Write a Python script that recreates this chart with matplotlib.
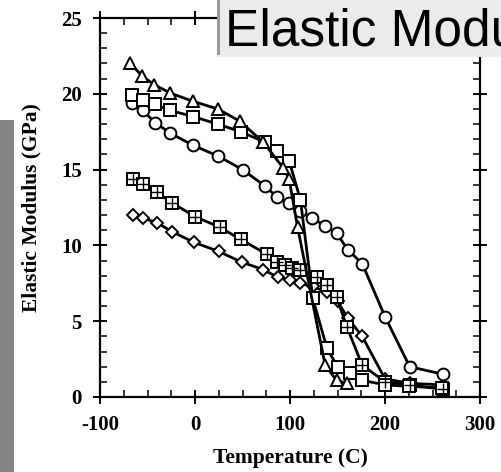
import matplotlib
matplotlib.use("Agg")
import matplotlib.pyplot as plt
from matplotlib.patches import Rectangle
from matplotlib.ticker import MultipleLocator

# ---- data ----
tri_T = [-68, -56, -43, -26, -2, 24, 47, 72, 93, 99, 108, 137, 149, 160]
tri_E = [22.0, 21.2, 20.6, 20.05, 19.5, 19.0, 18.2, 16.8, 15.1, 14.4, 11.2, 2.1, 1.1, 0.9]

sq_T = [-66, -55, -42, -26, -2, 24, 48, 74, 86, 99, 111, 124, 139, 150, 163, 176, 200, 225, 260]
sq_E = [19.9, 19.6, 19.3, 18.9, 18.5, 18.0, 17.5, 16.8, 16.2, 15.6, 13.0, 6.5, 3.2, 2.0, 1.6, 1.1, 0.8, 0.7, 0.6]

circ_T = [-66, -55, -42, -26, -2, 24, 50, 74, 86, 99, 111, 123, 137, 149, 161, 176, 200, 226, 261]
circ_E = [19.4, 18.9, 18.1, 17.4, 16.6, 15.9, 15.0, 13.9, 13.2, 12.8, 12.3, 11.8, 11.3, 10.8, 9.7, 8.8, 5.3, 2.0, 1.5]

xsq_T = [-65, -55, -40, -24, 0, 26, 48, 76, 86, 95, 102, 110, 128, 139, 149, 160, 176, 200, 226, 261]
xsq_E = [14.4, 14.05, 13.5, 12.8, 11.9, 11.2, 10.4, 9.4, 8.9, 8.7, 8.5, 8.4, 7.9, 7.4, 6.6, 4.6, 2.1, 1.0, 0.8, 0.5]

dia_T = [-65, -55, -40, -24, -1, 25, 49, 72, 87, 100, 110, 124, 139, 150, 161, 176, 200, 226, 261]
dia_E = [12.0, 11.8, 11.5, 10.9, 10.2, 9.6, 8.9, 8.4, 7.9, 7.7, 7.5, 7.3, 6.9, 6.3, 5.2, 4.0, 1.2, 0.9, 0.8]

x_ticks = [-100, 0, 100, 200, 300]
y_ticks = [0, 5, 10, 15, 20, 25]
x_label = "Temperature (C)"
y_label = "Elastic Modulus (GPa)"
title_text = "Elastic Modulus"

# ---- figure ----
W, H = 501, 472
fig = plt.figure(figsize=(W / 100, H / 100), dpi=100)
ax = fig.add_axes([100 / W, 1 - 397 / H, 380 / W, 379 / H])

serif = ["Liberation Serif", "DejaVu Serif"]
lw = 2.0
mew = 1.4

def draw(T, E, marker, ms):
    ax.plot(T, E, color="black", lw=lw, marker=marker, ms=ms,
            mfc="white", mec="black", mew=mew, zorder=3)

draw(dia_T, dia_E, "D", 6.5)
draw(xsq_T, xsq_E, "s", 8.5)
ax.plot(xsq_T, xsq_E, ls="none", marker="+", ms=8.5, mec="black", mew=1.0, zorder=4)
draw(circ_T, circ_E, "o", 8.5)
draw(sq_T, sq_E, "s", 9.0)
draw(tri_T, tri_E, "^", 9.0)

ax.set_xlim(-100, 300)
ax.set_ylim(0, 25)
ax.set_xticks(x_ticks)
ax.set_yticks(y_ticks)
ax.set_xticklabels([str(v) for v in x_ticks])
ax.xaxis.set_minor_locator(MultipleLocator(25))
ax.yaxis.set_minor_locator(MultipleLocator(1))

for s in ax.spines.values():
    s.set_linewidth(1.6)

ax.tick_params(which="major", direction="inout", length=10, width=1.4,
               top=True, right=True, pad=8)
ax.tick_params(which="minor", direction="in", length=5, width=1.1,
               top=True, right=True)
for lab in ax.get_xticklabels() + ax.get_yticklabels():
    lab.set_fontfamily(serif)
    lab.set_fontweight("bold")
    lab.set_fontsize(15)

ax.set_xlabel(x_label, fontfamily=serif, fontweight="bold", fontsize=15.5, labelpad=9)
ax.set_ylabel(y_label, fontfamily=serif, fontweight="bold", fontsize=15.5, labelpad=14)

# ---- overlays ----
fig.patches.append(Rectangle((0, 0), 14 / W, (H - 120) / H, transform=fig.transFigure,
                             facecolor="#858585", edgecolor="none", zorder=10))
fig.patches.append(Rectangle((217 / W, 1 - 57 / H), (W - 217) / W + 0.05, 57 / H,
                             transform=fig.transFigure, facecolor="#ebebeb",
                             edgecolor="none", zorder=10))
fig.patches.append(Rectangle((217 / W, 1 - 55 / H), 3 / W, 55 / H,
                             transform=fig.transFigure, facecolor="#9a9a9a",
                             edgecolor="none", zorder=11))
fig.text(225 / W, 1 - 46 / H, title_text, fontsize=37,
         fontfamily=["Liberation Sans", "DejaVu Sans"], color="black",
         ha="left", va="baseline", zorder=12)

fig.savefig("out.png", dpi=100)
